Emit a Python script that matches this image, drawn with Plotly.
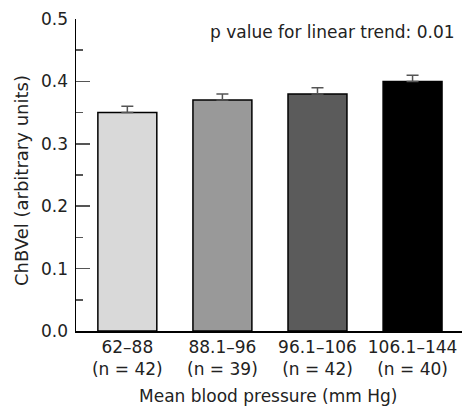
import plotly.graph_objects as go

categories = ["62–88<br>(n = 42)", "88.1–96<br>(n = 39)", "96.1–106<br>(n = 42)", "106.1–144<br>(n = 40)"]
values = [0.35, 0.37, 0.38, 0.40]
errors = [0.01, 0.01, 0.01, 0.01]
colors = ["#d9d9d9", "#999999", "#5b5b5b", "#000000"]
yticks = [0.0, 0.1, 0.2, 0.3, 0.4, 0.5]

FONT = "DejaVu Sans"
W, H = 463, 410
ML, MR, MT, MB = 76, 1, 19, 79
H_plot = H - MT - MB
W_plot = W - ML - MR


def px_x(x):
    return (x - ML) / W_plot


def px_y(y):
    return (H - MB - y) / H_plot


fig = go.Figure()
fig.add_trace(go.Bar(
    x=list(range(len(categories))), y=values,
    width=0.62,
    marker=dict(color=colors, line=dict(color="black", width=1.5)),
    error_y=dict(type="data", symmetric=False, array=errors, arrayminus=[0] * len(errors),
                 color="#555555", thickness=1.5, width=6),
    showlegend=False,
    hoverinfo="skip",
))

fig.update_layout(
    width=W, height=H,
    margin=dict(l=ML, r=MR, t=MT, b=MB, autoexpand=False),
    plot_bgcolor="white", paper_bgcolor="white",
    font=dict(family=FONT, size=17, color="#222222"),
    xaxis=dict(
        range=[-0.54, 3.52],
        tickmode="array", tickvals=list(range(len(categories))), ticktext=categories,
        showline=True, linecolor="black", linewidth=1.5,
        ticks="", showgrid=False, zeroline=False, automargin=False,
        tickfont=dict(size=17),
    ),
    yaxis=dict(
        range=[0, 0.5],
        tickmode="array", tickvals=yticks, ticktext=[f"{v:.1f}" for v in yticks],
        showline=True, linecolor="black", linewidth=1.5,
        ticks="inside", ticklen=14, tickwidth=1.5, tickcolor="#555555",
        minor=dict(ticks="inside", ticklen=7, tickwidth=1.5, tickcolor="#555555", dtick=0.05, tick0=0),
        showgrid=False, zeroline=False, automargin=False,
        ticklabelstandoff=3,
        tickfont=dict(size=17),
    ),
    annotations=[
        dict(text="p value for linear trend: 0.01", x=px_x(457), xref="paper", xanchor="right",
             y=px_y(32), yref="paper", yanchor="middle", showarrow=False, font=dict(size=17)),
        dict(text="Mean blood pressure (mm Hg)", x=px_x(268), xref="paper", xanchor="center",
             y=px_y(396), yref="paper", yanchor="middle", showarrow=False, font=dict(size=17)),
        dict(text="ChBVel (arbitrary units)", x=px_x(22), xref="paper", xanchor="center",
             y=px_y(181), yref="paper", yanchor="middle", textangle=-90, showarrow=False,
             font=dict(size=18)),
    ],
)

fig.write_html("out.html",
               config={"displayModeBar": False, "staticPlot": True},
               post_script="document.body.style.margin='0';document.body.style.padding='0';document.body.style.overflow='hidden';")
